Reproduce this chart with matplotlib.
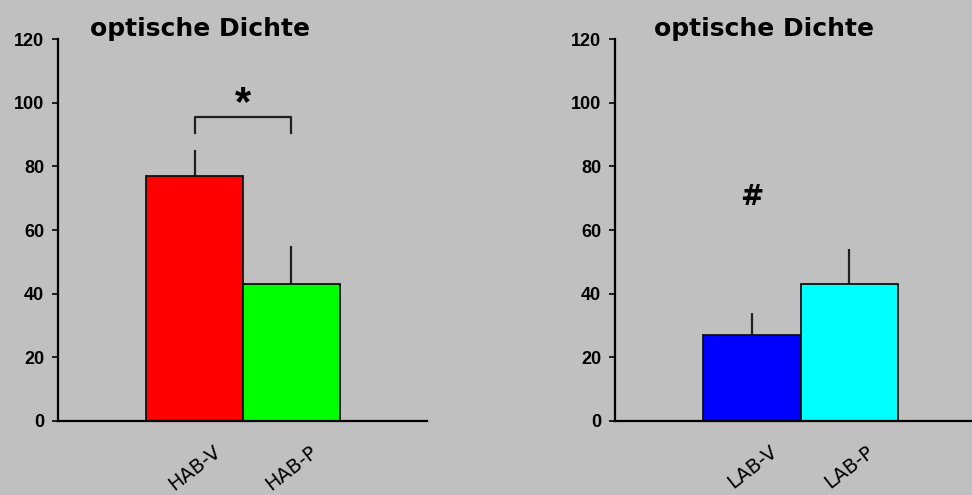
import matplotlib.pyplot as plt

# optical density, mean and upper error per group
hab_groups = ['HAB-V', 'HAB-P']
hab_means = [77, 43]
hab_err = [8, 12]
hab_colors = ['#ff0000', '#00ff00']

lab_groups = ['LAB-V', 'LAB-P']
lab_means = [27, 43]
lab_err = [7, 11]
lab_colors = ['#0000ff', '#00ffff']

# significance marks
bracket_y = 95.6
bracket_leg = 90.5
star_y = 99.5
hash_y = 70.5

bg = '#c0c0c0'
plt.rcParams['font.family'] = ['Liberation Sans', 'DejaVu Sans']

fig = plt.figure(figsize=(9.72, 4.95), dpi=100)
fig.patch.set_facecolor(bg)

ax1 = fig.add_axes([0.0597, 0.1495, 0.3796, 0.7717])
ax2 = fig.add_axes([0.6327, 0.1495, 0.3673, 0.7717])


def draw_panel(ax, groups, means, err, colors, xmax):
    x = list(range(len(groups)))
    ax.set_facecolor(bg)
    ax.bar(x, means, width=1.0, color=colors, edgecolor='#101010', linewidth=1.3, zorder=2)
    ax.errorbar(x, means, yerr=[[0] * len(err), err], fmt='none',
                ecolor='#202020', elinewidth=1.6, capsize=0, zorder=1)
    ax.set_ylim(0, 120)
    ax.set_xlim(-1.407, xmax)
    ax.set_yticks(range(0, 121, 20))
    ax.tick_params(axis='y', direction='out', length=4, width=1.2, pad=6,
                   labelsize=13)
    for lbl in ax.get_yticklabels():
        lbl.set_fontweight('bold')
    ax.set_xticks(x)
    ax.set_xticklabels(groups, rotation=38, ha='center', fontsize=14,
                       family='DejaVu Sans')
    ax.tick_params(axis='x', length=0, pad=15)
    for side in ['top', 'right']:
        ax.spines[side].set_visible(False)
    ax.spines['left'].set_linewidth(1.6)
    ax.spines['bottom'].set_linewidth(1.6)


draw_panel(ax1, hab_groups, hab_means, hab_err, hab_colors, 2.397)
draw_panel(ax2, lab_groups, lab_means, lab_err, lab_colors, 2.26)

ax1.text(0.385, 1.025, 'optische Dichte', transform=ax1.transAxes, ha='center',
         va='center', fontsize=18, fontweight='bold', family='DejaVu Sans',
         clip_on=False)
ax2.text(0.417, 1.025, 'optische Dichte', transform=ax2.transAxes, ha='center',
         va='center', fontsize=18, fontweight='bold', family='DejaVu Sans',
         clip_on=False)

# significance bracket between HAB groups
ax1.plot([0, 0, 1, 1], [bracket_leg, bracket_y, bracket_y, bracket_leg],
         color='#202020', linewidth=1.6)
ax1.text(0.5, star_y, '*', ha='center', va='center', fontsize=30, fontweight='bold')
ax2.text(0, hash_y, '#', ha='center', va='center', fontsize=20, fontweight='bold',
         family='DejaVu Sans')

fig.savefig('out.png', dpi=100, facecolor=bg)
